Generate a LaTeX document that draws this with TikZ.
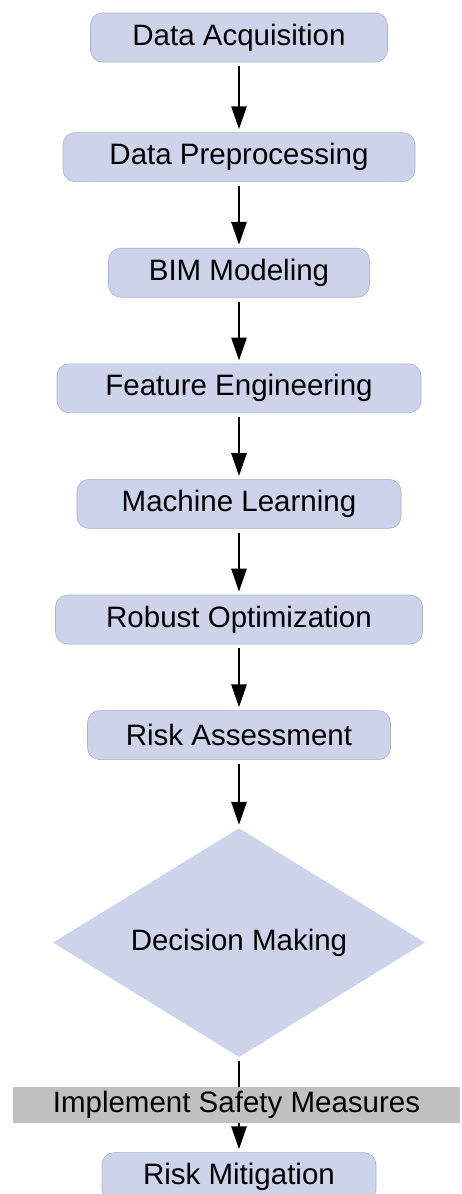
\documentclass[tikz,border=0pt]{standalone}
\usepackage{fontspec}
\setmainfont{Liberation Sans}
\usetikzlibrary{arrows.meta,positioning,shapes.geometric}
\definecolor{boxfill}{RGB}{205,211,234}
\definecolor{boxline}{RGB}{172,177,204}
\definecolor{barfill}{RGB}{192,192,192}

\begin{document}
\begin{tikzpicture}[
  x=1pt, y=1pt,
  node distance=66pt,
  box/.style={draw=boxline, line width=0.6pt, rounded corners=12pt, fill=boxfill, minimum height=49pt, inner sep=0pt, font=\fontsize{29.5}{32}\selectfont},
  decision/.style={diamond, fill=boxfill, aspect=1.62, minimum width=372pt, minimum height=229pt, inner sep=0pt, font=\fontsize{29.5}{32}\selectfont},
  bar/.style={fill=barfill, minimum width=447pt, minimum height=36pt, inner sep=0pt, font=\fontsize{29.5}{32}\selectfont},
  arr/.style={line width=2.8pt, -{Triangle[length=23pt 0 1,width=15pt 0 1]}, shorten <=4pt, shorten >=3pt}
]
\useasboundingbox (0,0) rectangle (461,-1194);

\node[box, minimum width=297pt] (acq) at (239,-37.5) {Data Acquisition};
\node[box, minimum width=352pt, below=70pt of acq] (pre) {Data Preprocessing};
\node[box, minimum width=261pt, below=of pre] (bim) {BIM Modeling};
\node[box, minimum width=364pt, below=of bim] (fe) {Feature Engineering};
\node[box, minimum width=324pt, below=of fe] (ml) {Machine Learning};
\node[box, minimum width=367pt, below=of ml] (ro) {Robust Optimization};
\node[box, minimum width=303pt, below=of ro] (ra) {Risk Assessment};
\node[decision, below=68pt of ra] (dm) {Decision Making};
\node[box, minimum width=274pt, below=95pt of dm] (rm) {Risk Mitigation};

\draw[arr] (acq)--(pre); \draw[arr] (pre)--(bim); \draw[arr] (bim)--(fe);
\draw[arr] (fe)--(ml); \draw[arr] (ml)--(ro); \draw[arr] (ro)--(ra);
\draw[arr] (ra)--(dm);
\draw[arr] (dm)-- node[bar, xshift=-2.5pt] (ism) {Implement Safety Measures} (rm);
\end{tikzpicture}
\end{document}
